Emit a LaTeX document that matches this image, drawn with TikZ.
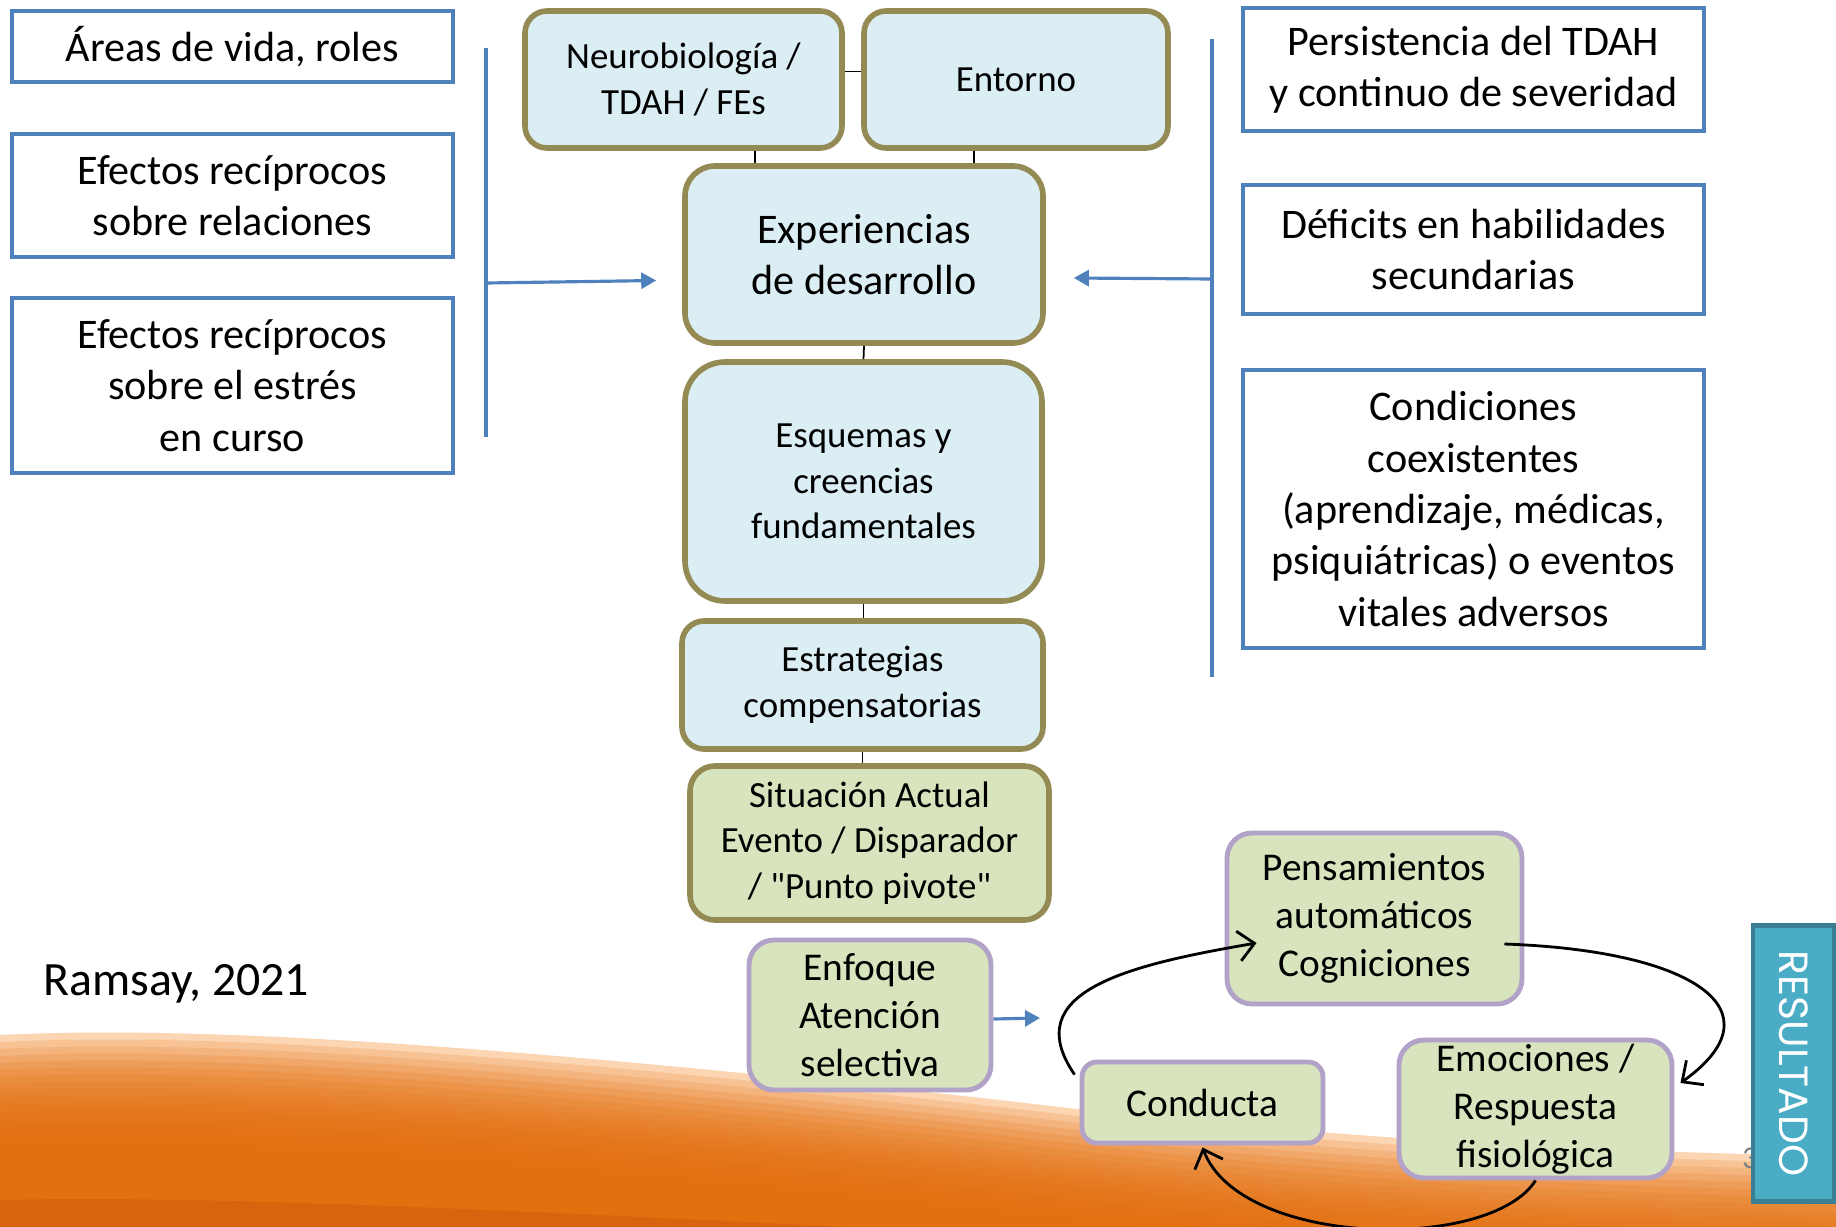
\documentclass[tikz,border=0pt]{standalone}
\usepackage{fontspec}
\setmainfont{Carlito}[Ligatures=TeXOff]
\newfontfamily\resfont{Poppins}
\usepackage{tikz}
\usetikzlibrary{arrows.meta}

\definecolor{azulb}{HTML}{4F81BD}
\definecolor{oliva}{HTML}{948A54}
\definecolor{celeste}{HTML}{DBEEF4}
\definecolor{verde}{HTML}{D7E4BD}
\definecolor{lila}{HTML}{B3A2C7}
\definecolor{turquesa}{HTML}{4BACC6}
\definecolor{turqborde}{HTML}{3A7F91}
\definecolor{naranjaclaro}{HTML}{FCD5B2}
\definecolor{naranja}{HTML}{E46C0A}
\definecolor{naranjaosc}{HTML}{D8620E}

\begin{document}
\begin{tikzpicture}[
    lbox/.style={draw=azulb, line width=1.2pt, fill=white, minimum width=4.41cm, inner sep=0pt, align=center, font=\fontsize{12}{14.6}\selectfont},
    rbox/.style={lbox, minimum width=4.61cm},
    cbox/.style={draw=oliva, line width=1.6pt, fill=celeste, inner sep=0pt, align=center, font=\fontsize{10.5}{13}\selectfont},
    gbox/.style={draw=lila, line width=1.4pt, fill=verde, rounded corners=2.5mm, inner sep=0pt, align=center, font=\fontsize{11.2}{13.6}\selectfont},
    linea/.style={line width=0.5pt},
    llave/.style={azulb, line width=1.4pt},
    flecha/.style={azulb, line width=0.9pt, -{Triangle[length=1.5mm,width=1.6mm]}},
    ciclo/.style={line width=0.8pt, -{Straight Barb[length=1.6mm,width=3mm]}}
]
    \useasboundingbox (0,0) rectangle (18.36,-12.27);
    % Fondo naranja
    \fill[naranjaclaro] (0,-10.35) .. controls (2,-10.25) and (5,-10.45) .. (10,-11.0) .. controls (12.5,-11.3) and (15,-11.5) .. (18.36,-11.56) -- (18.36,-12.27) -- (0,-12.27) -- cycle;
    \foreach \k in {1,...,16}
        \fill[naranja, opacity=0.17, yshift=-\k*0.7mm] (0,-10.35) .. controls (2,-10.25) and (5,-10.45) .. (10,-11.0) .. controls (12.5,-11.3) and (15,-11.5) .. (18.36,-11.56) -- (18.36,-13.5) -- (0,-13.5) -- cycle;
    \fill[naranjaosc, opacity=0.8] (0,-12.0) .. controls (2,-11.95) and (5,-12.1) .. (8.5,-12.27) -- (0,-12.27) -- cycle;

    % Cajas de la izquierda
    \node[lbox, minimum height=0.71cm] (areas) at (2.325,-0.465) {Áreas de vida, roles};
    \node[lbox, minimum height=1.23cm] (efrel) at (2.325,-1.955) {Efectos recíprocos\\sobre relaciones};
    \node[lbox, minimum height=1.75cm] (efest) at (2.325,-3.855) {Efectos recíprocos\\sobre el estrés\\en curso};

    % Cajas de la derecha
    \node[rbox, minimum height=1.23cm] (persist) at (14.735,-0.695) {Persistencia del TDAH\\y continuo de severidad};
    \node[rbox, minimum height=1.29cm] (deficit) at (14.735,-2.495) {Déficits en habilidades\\secundarias};
    \node[rbox, minimum height=2.78cm] (condic) at (14.735,-5.09) {Condiciones\\coexistentes\\(aprendizaje, médicas,\\psiquiátricas) o eventos\\vitales adversos};

    % Columna central
    \node[cbox, rounded corners=2.2mm, minimum width=3.17cm, minimum height=1.37cm] (neuro) at (6.835,-0.795) {Neurobiología /\\TDAH / FEs};
    \node[cbox, rounded corners=2.2mm, minimum width=3.04cm, minimum height=1.37cm] (entorno) at (10.16,-0.795) {Entorno};
    \node[cbox, rounded corners=3mm, minimum width=3.58cm, minimum height=1.77cm, font=\fontsize{12}{14.6}\selectfont] (exper) at (8.64,-2.545) {Experiencias\\de desarrollo};
    \node[cbox, rounded corners=4mm, minimum width=3.57cm, minimum height=2.39cm] (esquemas) at (8.635,-4.815) {Esquemas y\\creencias\\fundamentales};
    \node[cbox, rounded corners=2.2mm, minimum width=3.61cm, minimum height=1.28cm] (estrat) at (8.625,-6.85) {Estrategias\\compensatorias};
    \node[cbox, fill=verde, rounded corners=2.5mm, minimum width=3.59cm, minimum height=1.54cm] (situacion) at (8.695,-8.43) {Situación Actual\\Evento / Disparador\\/ "Punto pivote"};

    % Lineas de union
    \coordinate (n1) at ([xshift=7.15mm]neuro.south);
    \coordinate (e1) at ([xshift=-4.2mm]entorno.south);
    \draw[linea] ([yshift=0.8mm]neuro.east) -- ([yshift=0.8mm]entorno.west);
    \draw[linea] (n1) -- (n1 |- exper.north);
    \draw[linea] (e1) -- (e1 |- exper.north);
    \draw[linea] (exper.south) -- (esquemas.north);
    \draw[linea] (esquemas.south) -- (esquemas.south |- estrat.north);
    \draw[linea] (estrat.south) -- (estrat.south |- situacion.north);

    % Llaves azules y flechas
    \coordinate (li-sup) at (4.86,-0.48);
    \coordinate (li-inf) at (4.86,-4.37);
    \coordinate (li) at (4.87,-2.83);
    \coordinate (ld-sup) at (12.12,-0.39);
    \coordinate (ld-inf) at (12.12,-6.77);
    \coordinate (ld) at (12.12,-2.79);
    \draw[llave] (li-sup) -- (li-inf);
    \draw[llave] (ld-sup) -- (ld-inf);
    \draw[flecha] (li) -- ([xshift=-2.6mm, yshift=-2.6mm]exper.west);
    \draw[flecha] (ld) -- ([xshift=2.8mm, yshift=-2.35mm]exper.east);

    % Cita
    \node[anchor=west, font=\fontsize{13.6}{16}\selectfont] (cita) at (0.31,-9.84) {Ramsay, 2021};

    % Ciclo inferior
    \node[gbox, minimum width=2.42cm, minimum height=1.50cm] (enfoque) at (8.70,-10.15) {Enfoque\\Atención\\selectiva};
    \node[gbox, minimum width=2.95cm, minimum height=1.71cm] (pensam) at (13.745,-9.185) {Pensamientos\\automáticos\\Cogniciones};
    \node[gbox, rounded corners=1.5mm, minimum width=2.41cm, minimum height=0.81cm] (conducta) at (12.025,-11.025) {Conducta};
    \node[gbox, minimum width=2.73cm, minimum height=1.38cm] (emoc) at (15.355,-11.09) {Emociones /\\Respuesta\\fisiológica};
    \coordinate (enf-fin) at (10.40,-10.18);
    \draw[flecha] ([yshift=-0.4mm]enfoque.east) -- (enf-fin);
    \draw[ciclo] ([xshift=-0.5mm, yshift=-1.5mm]conducta.north west) .. controls +(-0.57,0.83) and +(-1.29,-0.22) .. ([xshift=3.2mm, yshift=-2.45mm]pensam.west);
    \draw[ciclo] ([xshift=-2mm, yshift=-2.55mm]pensam.east) .. controls +(1.88,-0.065) and +(1.02,0.73) .. ([xshift=0.6mm, yshift=2.6mm]emoc.east);
    \draw[ciclo] (emoc.south) .. controls +(-0.455,-0.72) and +(0.375,-1.0) .. ([yshift=-0.2mm]conducta.south);

    % Resultado
    \node[text=gray, font=\fontsize{9}{10}\selectfont] (num) at (17.50,-11.58) {3};
    \node[draw=turqborde, line width=1.4pt, fill=turquesa, text=white, rotate=-90, minimum width=2.76cm, minimum height=0.81cm, inner sep=0pt, font=\resfont\fontsize{11.6}{14}\selectfont] (res) at (17.935,-10.635) {RESULTADO};
\end{tikzpicture}
\end{document}
